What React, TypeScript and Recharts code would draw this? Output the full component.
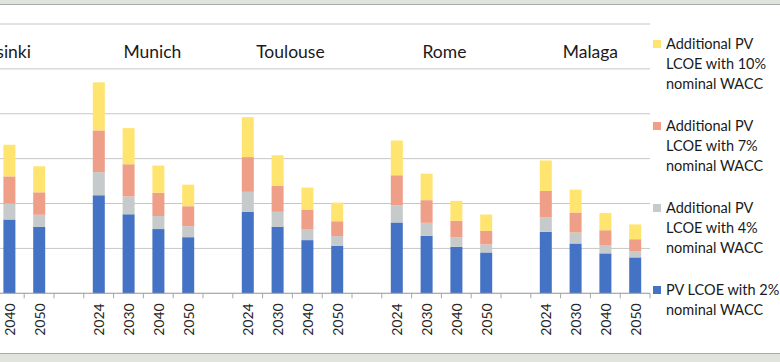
import { BarChart, Bar, XAxis, YAxis, CartesianGrid, ReferenceArea } from 'recharts';

// categories
const cities = ['Helsinki', 'Munich', 'Toulouse', 'Rome', 'Malaga'];
const years = ['2024', '2030', '2040', '2050'];

// stacked values per city/year (city-major). Helsinki 2024/2030 are cropped off the picture.
const pvWacc2 = [null, null, 32.9, 29.6, 43.7, 35.2, 28.6, 25.0, 36.3, 29.6, 23.7, 21.2, 31.6, 25.6, 20.7, 18.2, 27.4, 22.2, 17.8, 16.0];
const addWacc4 = [null, null, 7.1, 5.4, 10.3, 8.0, 5.8, 4.9, 8.9, 6.7, 4.7, 4.3, 7.6, 5.8, 4.2, 3.6, 6.4, 4.9, 3.7, 2.8];
const addWacc7 = [null, null, 12.1, 10.0, 18.6, 14.3, 10.4, 8.9, 15.5, 11.5, 8.9, 6.6, 13.4, 10.1, 7.4, 6.0, 11.8, 8.9, 6.6, 5.3];
const addWacc10 = [null, null, 14.1, 11.6, 21.4, 16.1, 12.1, 9.6, 17.8, 13.7, 9.8, 8.3, 15.5, 11.8, 8.9, 7.3, 13.6, 10.2, 7.7, 6.6];

const yTicks = [0, 20, 40, 60, 80, 100, 120];

const series = [
  { key: 'wacc2', name: 'PV LCOE with 2%\nnominal WACC', color: '#4472C4', values: pvWacc2 },
  { key: 'wacc4', name: 'Additional PV\nLCOE with 4%\nnominal WACC', color: '#C7CACA', values: addWacc4 },
  { key: 'wacc7', name: 'Additional PV\nLCOE with 7%\nnominal WACC', color: '#EF9E88', values: addWacc7 },
  { key: 'wacc10', name: 'Additional PV\nLCOE with 10%\nnominal WACC', color: '#FFE470', values: addWacc10 },
];

// the city captions in the original are hand placed text boxes, a bit off centre
const labelShift: Record<string, number> = { Helsinki: 6, Munich: 9, Toulouse: -2, Rome: 3 };

// build rows, with an empty slot between cities
const rows: any[] = [];
cities.forEach((city, ci) => {
  years.forEach((year, yi) => {
    const i = ci * years.length + yi;
    const row: any = { key: `${city} ${year}`, year };
    series.forEach((s) => (row[s.key] = s.values[i]));
    rows.push(row);
  });
  if (ci < cities.length - 1) rows.push({ key: `gap${ci}`, year: '' });
});

const FONT = 'Lato, "Open Sans", sans-serif';
const TICK_MARGIN = 10;
const AXIS_COLOR = '#a6a6a6';

// year label plus an Excel style tick mark on the right edge of each category band
const YearTick = ({ x, y, payload, width }: any) => {
  const row = rows.find((r) => r.key === payload.value);
  const band = width / rows.length;
  const axisY = y - TICK_MARGIN;
  return (
    <g>
      <line x1={x + band / 2} x2={x + band / 2} y1={axisY} y2={axisY + 5} stroke={AXIS_COLOR} />
      {row && row.year ? (
        <text
          x={x}
          y={y}
          transform={`rotate(-90 ${x} ${y})`}
          textAnchor="end"
          dominantBaseline="central"
          fontSize={14}
          fontFamily={FONT}
          fill="#262626"
        >
          {row.year}
        </text>
      ) : null}
    </g>
  );
};

const App = () => {
  return (
    <div
      style={{
        position: 'absolute',
        left: 0,
        top: 0,
        width: 780,
        height: 362,
        overflow: 'hidden',
        background: '#dfe4dd',
      }}
    >
      <div
        style={{
          position: 'absolute',
          left: 0,
          top: 4,
          width: 780,
          height: 350,
          background: '#fff',
          borderTop: '1px solid #a9aca8',
          borderBottom: '1px solid #a9aca8',
          boxSizing: 'border-box',
        }}
      />
      <div style={{ position: 'absolute', left: -75, top: 0 }}>
        <BarChart
          width={730}
          height={362}
          data={rows}
          margin={{ top: 24, right: 5, left: 9.8, bottom: 67.7 }}
        >
          <CartesianGrid horizontal vertical={false} stroke="#c6c6c6" />
          <YAxis hide domain={[0, 120]} ticks={yTicks} />
          <XAxis
            dataKey="key"
            interval={0}
            height={1}
            tickLine={false}
            tickSize={0}
            tickMargin={TICK_MARGIN}
            axisLine={{ stroke: AXIS_COLOR }}
            tick={<YearTick />}
          />
          {series.map((s) => (
            <Bar
              key={s.key}
              dataKey={s.key}
              name={s.name}
              stackId="lcoe"
              fill={s.color}
              barSize={12}
              isAnimationActive={false}
            />
          ))}
          {cities.map((city) => (
            <ReferenceArea
              key={city}
              x1={`${city} ${years[0]}`}
              x2={`${city} ${years[years.length - 1]}`}
              y1={100}
              y2={120}
              fill="#fff"
              fillOpacity={0}
              stroke="none"
              ifOverflow="visible"
              label={{
                value: city,
                position: 'insideBottom',
                offset: 11,
                dx: labelShift[city] ?? 0,
                fill: '#1a1a1a',
                fontSize: 17.5,
                fontFamily: FONT,
              }}
            />
          ))}
        </BarChart>
      </div>
      <div
        style={{
          position: 'absolute',
          left: 653,
          top: 34,
          fontFamily: FONT,
          fontSize: 14.5,
          lineHeight: '20px',
          color: '#1a1a1a',
        }}
      >
        {[...series].reverse().map((s) => (
          <div key={s.key} style={{ position: 'relative', marginBottom: 22, paddingLeft: 13, whiteSpace: 'pre-line' }}>
            <span
              style={{
                position: 'absolute',
                left: 0,
                top: 6,
                width: 8,
                height: 8,
                background: s.color,
              }}
            />
            {s.name}
          </div>
        ))}
      </div>
    </div>
  );
};

export default App;
